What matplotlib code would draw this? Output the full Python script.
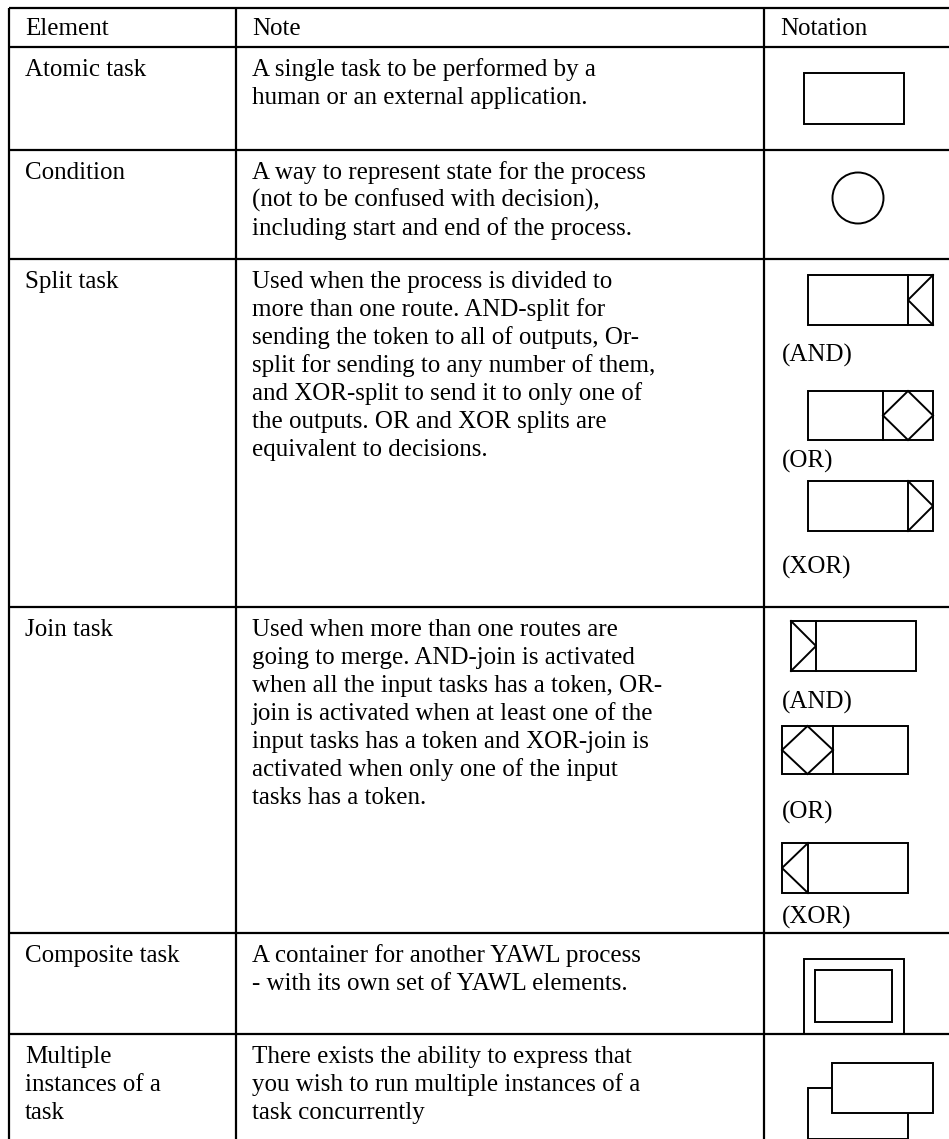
import matplotlib.pyplot as plt
from matplotlib.patches import Rectangle, Circle, Polygon

plt.rcParams['font.family'] = ['Liberation Serif', 'DejaVu Serif']

# table content
headers = ['Element', 'Note', 'Notation']
elements = [
    ['Atomic task'],
    ['Condition'],
    ['Split task'],
    ['Join task'],
    ['Composite task'],
    ['Multiple', 'instances of a', 'task'],
]
notes = [
    ['A single task to be performed by a',
     'human or an external application.'],
    ['A way to represent state for the process',
     '(not to be confused with decision),',
     'including start and end of the process.'],
    ['Used when the process is divided to',
     'more than one route. AND-split for',
     'sending the token to all of outputs, Or-',
     'split for sending to any number of them,',
     'and XOR-split to send it to only one of',
     'the outputs. OR and XOR splits are',
     'equivalent to decisions.'],
    ['Used when more than one routes are',
     'going to merge. AND-join is activated',
     'when all the input tasks has a token, OR-',
     'join is activated when at least one of the',
     'input tasks has a token and XOR-join is',
     'activated when only one of the input',
     'tasks has a token.'],
    ['A container for another YAWL process',
     '- with its own set of YAWL elements.'],
    ['There exists the ability to express that',
     'you wish to run multiple instances of a',
     'task concurrently'],
]
gate_labels = ['(AND)', '(OR)', '(XOR)']

# layout in pixels
row_edges = [8, 47, 150, 259, 607, 933, 1034, 1145]
col_edges = [9, 236, 764, 949]
text_pad = 16
first_base = 29
line_step = 28
fs = 18
LW = 1.6

fig = plt.figure(figsize=(9.49, 11.39), dpi=100)
ax = fig.add_axes([0, 0, 1, 1])
ax.set_xlim(0, 949)
ax.set_ylim(1139, 0)
ax.axis('off')

# grid lines
for y in row_edges[:-1]:
    ax.plot([col_edges[0], col_edges[-1]], [y, y], color='black', lw=LW,
            solid_capstyle='butt')
for x in col_edges[:-1]:
    ax.plot([x, x], [row_edges[0], row_edges[-1]], color='black', lw=LW,
            solid_capstyle='butt')


def cell_text(col, top, lines):
    for i, s in enumerate(lines):
        ax.text(col_edges[col] + text_pad, top + first_base + i * line_step, s,
                fontsize=fs, va='baseline', ha='left', color='black')


for c, h in enumerate(headers):
    ax.text(col_edges[c] + text_pad, row_edges[0] + 27, h, fontsize=fs,
            va='baseline', ha='left')
for r in range(len(elements)):
    top = row_edges[r + 1]
    cell_text(0, top, elements[r])
    cell_text(1, top, notes[r])


def box(x, y, w, h, lw=1.4, fill=False, z=2):
    ax.add_patch(Rectangle((x, y), w, h, fill=fill, facecolor='white',
                           edgecolor='black', lw=lw, zorder=z))


def task(x, y, w, h, side=None, kind=None, dw=25):
    box(x, y, w, h)
    if side is None:
        return
    bx = x + w - dw if side == 'right' else x
    ax.plot([bx + (dw if side == 'left' else 0)] * 2, [y, y + h],
            color='black', lw=1.4)
    ym = y + h / 2
    if kind == 'lt':
        pts = [(bx + dw, y), (bx, ym), (bx + dw, y + h)]
        ax.plot(*zip(*pts), color='black', lw=1.4)
    elif kind == 'gt':
        pts = [(bx, y), (bx + dw, ym), (bx, y + h)]
        ax.plot(*zip(*pts), color='black', lw=1.4)
    else:
        ax.add_patch(Polygon([(bx, ym), (bx + dw / 2, y), (bx + dw, ym),
                              (bx + dw / 2, y + h)], closed=True, fill=False,
                             edgecolor='black', lw=1.4))


lx = col_edges[2] + 18

# atomic task
task(804, 73, 100, 51)
# condition
ax.add_patch(Circle((858, 198), 25.5, fill=False, edgecolor='black', lw=1.4))

# split tasks
task(808, 275, 125, 50, 'right', 'lt')
task(808, 391, 125, 49, 'right', 'diamond', dw=50)
task(808, 481, 125, 50, 'right', 'gt')
for lab, yb in zip(gate_labels, [362, 468, 574]):
    ax.text(lx, yb, lab, fontsize=fs, va='baseline', ha='left')

# join tasks
task(791, 621, 125, 50, 'left', 'gt')
task(782, 726, 126, 48, 'left', 'diamond', dw=51)
task(782, 843, 126, 50, 'left', 'lt', dw=26)
for lab, yb in zip(gate_labels, [709, 819, 924]):
    ax.text(lx, yb, lab, fontsize=fs, va='baseline', ha='left')

# composite task
box(804, 959, 100, 75)
box(815, 970, 77, 52)

# multiple instances
box(808, 1088, 100, 51, z=2)
box(832, 1063, 101, 50, fill=True, z=3)

fig.savefig('out.png', dpi=100, facecolor='white')
